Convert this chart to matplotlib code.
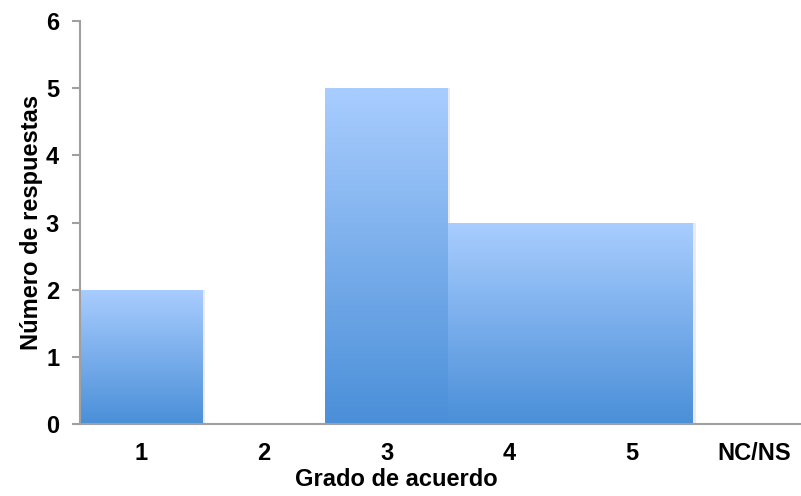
import matplotlib
matplotlib.use("Agg")
import matplotlib.pyplot as plt
import numpy as np
from matplotlib.colors import LinearSegmentedColormap

categories = ["1", "2", "3", "4", "5", "NC/NS"]
values = [2, 0, 5, 3, 3, 0]
yticks = [0, 1, 2, 3, 4, 5, 6]

plt.rcParams['font.family'] = ['Liberation Sans', 'DejaVu Sans']

fig = plt.figure(figsize=(8.01, 4.96), dpi=100)
ax = fig.add_axes([80/801, 72/496, 1 - 80/801, (424-21)/496])

cmap = LinearSegmentedColormap.from_list("g", ["#4a8fd8", "#a9cdff"])
grad = np.linspace(0, 1, 256).reshape(-1, 1)

x = np.arange(len(categories))
bars = ax.bar(x, values, width=1.0, color="none", edgecolor="none", zorder=2)
for b in bars:
    h = b.get_height()
    if h <= 0:
        continue
    x0 = b.get_x(); w = b.get_width()
    ax.bar(x0 + w/2 + 0.02, h, width=w, color="#000000", alpha=0.08, zorder=1, edgecolor="none")
    im = ax.imshow(grad, extent=[x0, x0 + w, 0, h], origin="lower", cmap=cmap,
                   aspect="auto", zorder=3)
    im.set_clip_path(b)

ax.set_xlim(-0.5, 5.38)
ax.set_ylim(0, 6)
ax.set_xticks(x)
ax.set_xticklabels(categories, fontsize=17, fontweight="bold")
ax.set_yticks(yticks)
ax.set_yticklabels([str(t) for t in yticks], fontsize=17, fontweight="bold")
ax.tick_params(axis="x", length=0, pad=13)
ax.tick_params(axis="y", length=6, width=1.5, color="#a0a0a0", pad=9)
for s in ["top", "right"]:
    ax.spines[s].set_visible(False)
for s in ["left", "bottom"]:
    ax.spines[s].set_color("#a0a0a0")
    ax.spines[s].set_linewidth(1.5)
    ax.spines[s].set_zorder(5)
ax.set_xlabel("Grado de acuerdo", fontsize=17, fontweight="bold")
ax.xaxis.set_label_coords((396 - 80) / 721, -0.11)
ax.xaxis.label.set_va("top")
ax.set_ylabel("Número de respuestas", fontsize=17, fontweight="bold", labelpad=2)

fig.savefig("out.png", dpi=100)
